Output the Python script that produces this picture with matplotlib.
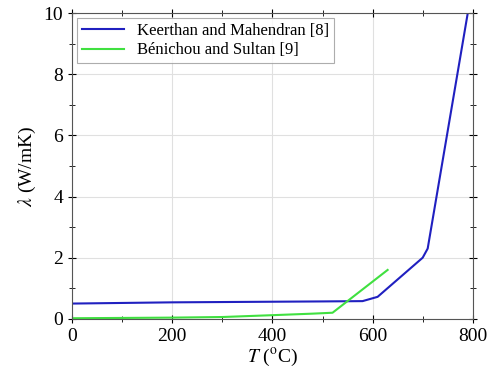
import numpy as np
import matplotlib.pyplot as plt
from matplotlib.ticker import MultipleLocator

# thermal conductivity vs temperature
temp_keerthan = [0, 100, 200, 300, 400, 500, 580, 610, 700, 710, 790]
lam_keerthan = [0.50, 0.52, 0.54, 0.55, 0.56, 0.57, 0.58, 0.72, 2.0, 2.3, 10.0]

temp_benichou = [0, 100, 200, 300, 400, 480, 520, 630]
lam_benichou = [0.02, 0.03, 0.04, 0.06, 0.12, 0.17, 0.20, 1.6]

labels = ['Keerthan and Mahendran [8]', 'Bénichou and Sultan [9]']

plt.rcParams['font.family'] = 'Liberation Serif'
plt.rcParams['mathtext.fontset'] = 'stix'

fig = plt.figure(figsize=(4.94, 3.76), dpi=100)
ax = fig.add_axes([0.146, 0.152, 0.811, 0.813])

ax.plot(temp_keerthan, lam_keerthan, color='#2020c0', linewidth=1.5, label=labels[0])
ax.plot(temp_benichou, lam_benichou, color='#40e040', linewidth=1.5, label=labels[1])

ax.set_xlim(0, 800)
ax.set_ylim(0, 10)
ax.xaxis.set_major_locator(MultipleLocator(200))
ax.xaxis.set_minor_locator(MultipleLocator(100))
ax.yaxis.set_major_locator(MultipleLocator(2))
ax.yaxis.set_minor_locator(MultipleLocator(1))
ax.grid(which='major', color='#e0e0e0', linewidth=0.8)
ax.tick_params(which='both', direction='inout', top=True, right=True, labelsize=14)
ax.tick_params(which='major', length=6)
ax.tick_params(which='minor', length=4)
for sp in ax.spines.values():
    sp.set_color('#555555')

ax.set_xlabel(r'$T$ ($^{\rm o}$C)', fontsize=14, labelpad=1)
ax.set_ylabel(r'$\lambda$ (W/mK)', fontsize=14)

leg = ax.legend(loc='upper left', fontsize=12, fancybox=False, edgecolor='#999999',
                borderaxespad=0.3, handlelength=2.5, labelspacing=0.2, borderpad=0.3)
leg.get_frame().set_linewidth(0.8)

plt.savefig('out.png', dpi=100)
plt.close()
